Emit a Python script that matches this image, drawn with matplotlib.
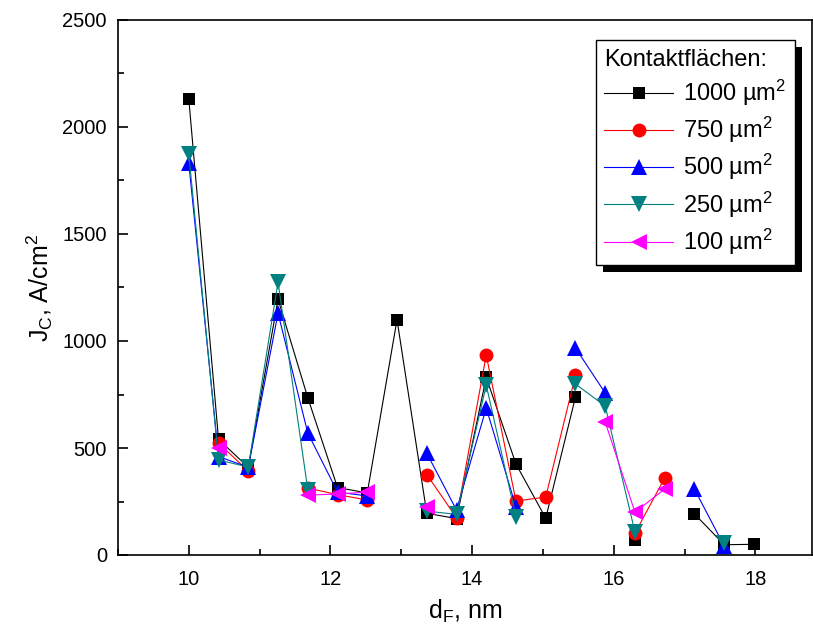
import matplotlib.pyplot as plt
import numpy as np
from matplotlib.patches import Rectangle
from matplotlib.ticker import MultipleLocator

plt.rcParams['font.family'] = ['Liberation Sans', 'DejaVu Sans']
plt.rcParams['mathtext.fontset'] = 'custom'
plt.rcParams['mathtext.rm'] = 'Liberation Sans'
plt.rcParams['mathtext.it'] = 'Liberation Sans:italic'

nan = np.nan
# d_F positions, nm
d_f = [10.0, 10.42, 10.84, 11.26, 11.68, 12.1, 12.52, 12.94, 13.36, 13.78,
       14.2, 14.62, 15.04, 15.46, 15.88, 16.3, 16.72, 17.14, 17.56, 17.98]

# J_C values, A/cm^2, per contact area
jc_1000 = [2130, 540, 410, 1195, 735, 315, 290, 1100, 195, 170,
           830, 425, 172, 738, nan, 68, nan, 192, 48, 50]
jc_750 = [nan, 523, 392, nan, 313, 282, 257, nan, 376, 174,
          934, 252, 271, 840, nan, 102, 360, nan, nan, nan]
jc_500 = [1830, 460, 410, 1130, 570, 294, 276, nan, 476, 210,
          687, 224, nan, 967, 757, nan, nan, 308, 42, nan]
jc_250 = [1873, 444, 411, 1275, 305, nan, nan, nan, 205, 190,
          794, 177, nan, 799, 696, 107, nan, nan, 56, nan]
jc_100 = [nan, 500, nan, nan, 280, 285, 294, nan, 224, nan,
          nan, nan, nan, nan, 621, 200, 308, nan, nan, nan]

series = [
    (jc_1000, 'black', 's', 9, '1000 µm$^2$'),
    (jc_750, 'red', 'o', 10, '750 µm$^2$'),
    (jc_500, 'blue', '^', 11, '500 µm$^2$'),
    (jc_250, '#008080', 'v', 11, '250 µm$^2$'),
    (jc_100, 'magenta', '<', 11, '100 µm$^2$'),
]

fig = plt.figure(figsize=(8.13, 6.32), dpi=100)
ax = fig.add_axes([118 / 813, 1 - 555 / 632, (812 - 118) / 813, (555 - 20) / 632])

for vals, col, mk, ms, lab in series:
    ax.plot(d_f, vals, color=col, marker=mk, markersize=ms, linewidth=0.8,
            markeredgewidth=0, label=lab)

ax.set_xlim(9, 18.8)
ax.set_ylim(0, 2500)
ax.xaxis.set_major_locator(MultipleLocator(2))
ax.xaxis.set_minor_locator(MultipleLocator(1))
ax.yaxis.set_major_locator(MultipleLocator(500))
ax.yaxis.set_minor_locator(MultipleLocator(250))
ax.tick_params(which='both', direction='in', top=False, right=False,
               labelsize=14.5, width=1.2)
ax.tick_params(axis='x', pad=11)
ax.tick_params(axis='y', pad=8)
ax.tick_params(which='major', length=7)
ax.tick_params(which='minor', length=4.5)
for s in ax.spines.values():
    s.set_linewidth(1.2)

ax.set_xlabel('d$_\\mathrm{F}$, nm', fontsize=18, labelpad=6)
ax.set_ylabel('J$_\\mathrm{C}$, A/cm$^2$', fontsize=18, labelpad=5)

leg = ax.legend(title='Kontaktflächen:', loc='upper right',
                bbox_to_anchor=(0.975, 0.962), fontsize=17, title_fontsize=17,
                alignment='left', fancybox=False, framealpha=1, edgecolor='black',
                handlelength=2.9, handletextpad=0.45, borderpad=0.35,
                labelspacing=0.3, borderaxespad=0)
leg.get_frame().set_linewidth(1.0)
leg.set_zorder(6)

# solid black drop shadow behind the legend box
fig.canvas.draw()
bb = leg.get_window_extent()
off = 7
shadow = Rectangle((bb.x0 + off, bb.y0 - off), bb.width, bb.height,
                   transform=None, facecolor='black', edgecolor='none',
                   zorder=5, clip_on=False)
ax.add_artist(shadow)

fig.savefig('out.png', dpi=100)
